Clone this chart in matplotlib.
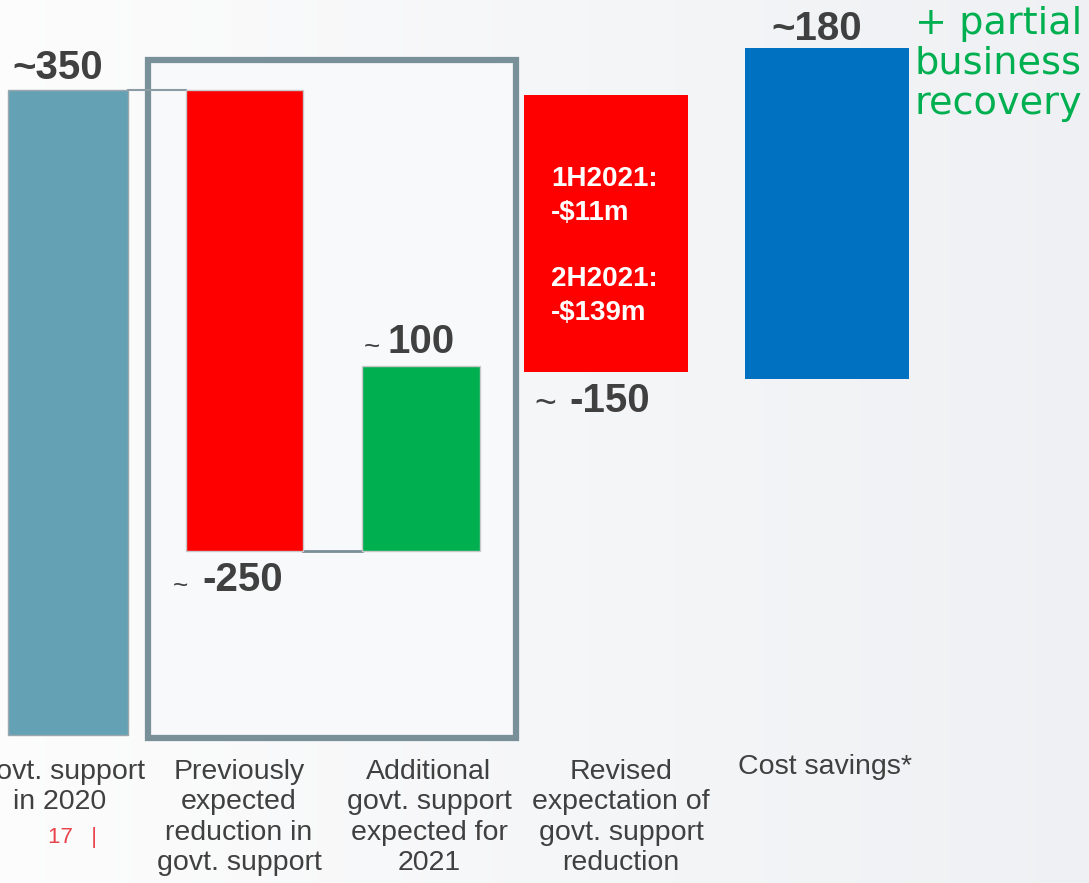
import matplotlib
matplotlib.use("Agg")
import matplotlib.pyplot as plt
import numpy as np
from matplotlib.patches import Rectangle

# ---- data ----
categories = ["Govt. support\nin 2020",
              "Previously\nexpected\nreduction in\ngovt. support",
              "Additional\ngovt. support\nexpected for\n2021",
              "Revised\nexpectation of\ngovt. support\nreduction",
              "Cost savings*"]
values = [350, -250, 100, -150, 180]
value_labels = ["350", "-250", "100", "-150", "180"]
half_year_labels = ["1H2021:\n-$11m", "2H2021:\n-$139m"]
side_note = "+ partial\nbusiness\nrecovery"
page_number = "17   |"

colors = ["#65a1b5", "#ff0000", "#00b050", "#ff0000", "#0070c0"]

W, H = 1089, 883
PX = 1.843          # pixels per unit
BASE_PX = 735       # pixel row of zero
fig = plt.figure(figsize=(W / 100, H / 100), dpi=100)
ax = fig.add_axes([0, 0, 1, 1])
ax.set_xlim(0, W)
ax.set_ylim(-(H - BASE_PX) / PX, BASE_PX / PX)
ax.axis("off")

FONT = "Liberation Sans"

# background gradient
grad = np.linspace(0, 1, 256)[None, :]
c0 = np.array([0.99, 0.99, 0.99])
c1 = np.array([0.935, 0.943, 0.955])
img = c0[None, None, :] * (1 - grad[..., None]) + c1[None, None, :] * grad[..., None]
ax.imshow(img, extent=[0, W, ax.get_ylim()[0], ax.get_ylim()[1]], aspect="auto", zorder=0)

def fy(py):
    return 1 - py / H

def fx(px):
    return px / W

# layout (positions in pixels)
centers = [68, 244.5, 421, 606, 827]
widths = [120, 117, 118, 164, 164]

# waterfall bottoms / heights derived from data
start = values[0]
after_red = start + values[1]
after_green = after_red + values[2]
bottoms = [0, after_red, after_red, start + values[3] - 3, 193]
heights = [values[0], -values[1], values[2], -values[3], values[4]]

# box around bars 2-3
box = Rectangle((fx(148), fy(738)), fx(516) - fx(148), fy(60) - fy(738),
                transform=fig.transFigure, fill=True, facecolor="#f8f9fa",
                edgecolor="#7a9099", linewidth=4.5, zorder=1)
ax.add_patch(box)

ax.bar(centers, heights, width=widths, bottom=bottoms, color=colors,
       edgecolor=["#9aa8ae", "#c8c8c8", "#c8c8c8", "none", "none"],
       linewidth=1, zorder=3)

# connectors
ax.plot([centers[0] + widths[0] / 2, centers[1] - widths[1] / 2], [start, start],
        color="#8c9ca4", lw=1.5, zorder=2.5)
ax.plot([centers[1] + widths[1] / 2, centers[2] - widths[2] / 2], [after_red, after_red],
        color="#7a8e97", lw=2, zorder=2.5)

dark = "#404040"
# ~350
ax.text(12, start + 12, "~" + value_labels[0], fontsize=29, fontweight="bold", color=dark,
        family=FONT, ha="left", va="center", zorder=5)
# ~ -250
ax.text(173, after_red - 19, "~", fontsize=19, color=dark, family=FONT,
        ha="left", va="center", zorder=5)
ax.text(202, after_red - 16, value_labels[1], fontsize=29, fontweight="bold", color=dark,
        family=FONT, ha="left", va="center", zorder=5)
# ~100
ax.text(364, after_green + 10, "~", fontsize=20, color=dark, family=FONT,
        ha="left", va="center", zorder=5)
ax.text(387, after_green + 13, value_labels[2], fontsize=29, fontweight="bold", color=dark,
        family=FONT, ha="left", va="center", zorder=5)
# ~ -150
ax.text(534, bottoms[3] - 18, "~", fontsize=27, color=dark, family=FONT,
        ha="left", va="center", zorder=5)
ax.text(569, bottoms[3] - 16, value_labels[3], fontsize=29, fontweight="bold", color=dark,
        family=FONT, ha="left", va="center", zorder=5)
# ~180
ax.text(centers[4] - 10, bottoms[4] + heights[4] + 10, "~" + value_labels[4], fontsize=29,
        fontweight="bold", color=dark, family=FONT, ha="center", va="center", zorder=5)

# half-year text in red bar
fig.text(fx(551), fy(166), half_year_labels[0], fontsize=20, fontweight="bold",
         color="white", family=FONT, ha="left", va="top", linespacing=1.42, zorder=6)
fig.text(fx(551), fy(266), half_year_labels[1], fontsize=20, fontweight="bold",
         color="white", family=FONT, ha="left", va="top", linespacing=1.42, zorder=6)

# side note
fig.text(fx(915), fy(6), side_note, fontsize=27.5, color="#00b050",
         family="DejaVu Sans", ha="left", va="top", linespacing=1.14, zorder=6)

# category labels
label_centers = [60, 239, 429, 621, 825]
label_tops = [759, 759, 759, 759, 754]
for cx, ty, lab in zip(label_centers, label_tops, categories):
    fig.text(fx(cx), fy(ty), lab, fontsize=20.5, color=dark, family=FONT,
             ha="center", va="top", linespacing=1.22, zorder=6)

fig.text(fx(48), fy(838), page_number, fontsize=16, color="#e8424a", family=FONT,
         ha="left", va="center", zorder=6)

fig.savefig("out.png", dpi=100)
